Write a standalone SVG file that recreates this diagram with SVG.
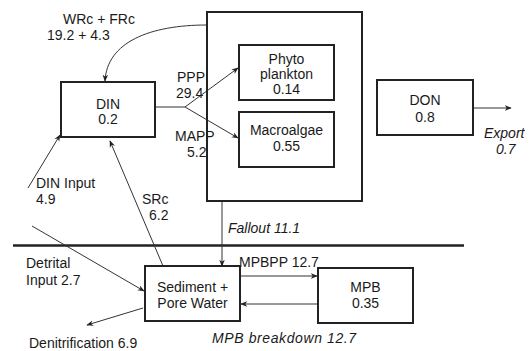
<svg xmlns="http://www.w3.org/2000/svg" width="532" height="351" viewBox="0 0 532 351">
<defs>
<marker id="ah" viewBox="0 0 10 10" refX="9" refY="5" markerWidth="7" markerHeight="7" orient="auto" markerUnits="userSpaceOnUse">
<path d="M0,1 L10,5 L0,9 L3,5 Z" fill="#222"/>
</marker>
</defs>
<style>
text{font-family:"Liberation Sans",Arial,sans-serif;font-size:14px;fill:#1a1a1a}
.c{text-anchor:middle}
.i{font-style:italic}
.box{fill:#fff;stroke:#222;stroke-width:2}
.big{fill:none;stroke:#222;stroke-width:2}
.ln{fill:none;stroke:#333;stroke-width:1}
</style>
<rect width="532" height="351" fill="#fff"/>
<g id="connectors">
<path class="ln" d="M13,245.5 L464,245.5" style="stroke-width:2.5;stroke:#222"/>
<path class="ln" d="M207,25 C150,25 107,42 105,81" marker-end="url(#ah)"/>
<path class="ln" d="M155,107 L185,107 L238,68" marker-end="url(#ah)"/>
<path class="ln" d="M185,107 L238,138" marker-end="url(#ah)"/>
<path class="ln" d="M473,108 L511,108" marker-end="url(#ah)"/>
<path class="ln" d="M28,188 L60,135" marker-end="url(#ah)"/>
<path class="ln" d="M163,266 L110,141" marker-end="url(#ah)"/>
<path class="ln" d="M32,226 L144,291" marker-end="url(#ah)"/>
<path class="ln" d="M143,308 L87,325" marker-end="url(#ah)"/>
<path class="ln" d="M222,202 L222,266" marker-end="url(#ah)"/>
<path class="ln" d="M241,276 L317,276" marker-end="url(#ah)"/>
<path class="ln" d="M317,304 L241,304" marker-end="url(#ah)"/>
</g>
<g id="labels">
<text x="63" y="24">WRc + FRc</text>
<text x="47" y="40">19.2 + 4.3</text>
<text x="177" y="82">PPP</text>
<text x="176" y="98">29.4</text>
<text x="175" y="141">MAPP</text>
<text x="187" y="157">5.2</text>
<text x="36" y="188">DIN Input</text>
<text x="36" y="204">4.9</text>
<text x="142" y="204">SRc</text>
<text x="149" y="220">6.2</text>
<text class="i" x="228" y="233">Fallout 11.1</text>
<text x="26" y="268">Detrital</text>
<text x="26" y="285">Input 2.7</text>
<text x="239" y="267">MPBPP 12.7</text>
<text class="i" x="484" y="138">Export</text>
<text class="i" x="496" y="154">0.7</text>
<text x="29" y="348">Denitrification 6.9</text>
<text class="i" x="212" y="343" style="letter-spacing:0.6px">MPB breakdown 12.7</text>
</g>
<g id="primary-producers">
<rect class="big" x="207" y="12" width="155" height="189"/>
</g>
<g id="din">
<rect class="box" x="61" y="82" width="94" height="55"/>
<text class="c" x="108" y="109">DIN</text>
<text class="c" x="108" y="124">0.2</text>
</g>
<g id="phytoplankton">
<rect class="box" x="239" y="45" width="95" height="55"/>
<text class="c" x="286.5" y="64">Phyto</text>
<text class="c" x="286.5" y="79">plankton</text>
<text class="c" x="286.5" y="94">0.14</text>
</g>
<g id="macroalgae">
<rect class="box" x="239" y="112" width="95" height="55"/>
<text class="c" x="286.5" y="135">Macroalgae</text>
<text class="c" x="286.5" y="151">0.55</text>
</g>
<g id="don">
<rect class="box" x="377" y="80" width="96" height="55"/>
<text class="c" x="425" y="105">DON</text>
<text class="c" x="425" y="122">0.8</text>
</g>
<g id="sediment">
<rect class="box" x="145" y="266" width="95" height="55"/>
<text class="c" x="192.5" y="292">Sediment +</text>
<text class="c" x="192.5" y="308">Pore Water</text>
</g>
<g id="mpb">
<rect class="box" x="318" y="268" width="95" height="55"/>
<text class="c" x="365.5" y="292">MPB</text>
<text class="c" x="365.5" y="308">0.35</text>
</g>
</svg>
